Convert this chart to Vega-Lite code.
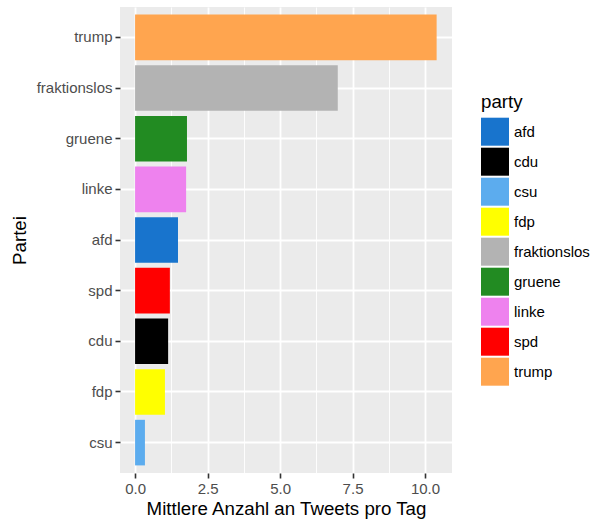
{
  "$schema": "https://vega.github.io/schema/vega-lite/v6.json",
  "autosize": "none",
  "width": 332,
  "height": 466,
  "padding": {"left": 120, "top": 7, "right": 143, "bottom": 47},
  "background": "white",
  "config": {
    "font": "Liberation Sans",
    "view": {"fill": "#EBEBEB", "stroke": null}
  },
  "data": {
    "values": [
      {"partei": "trump", "tweets": 10.4},
      {"partei": "fraktionslos", "tweets": 6.99},
      {"partei": "gruene", "tweets": 1.79},
      {"partei": "linke", "tweets": 1.76},
      {"partei": "afd", "tweets": 1.48},
      {"partei": "spd", "tweets": 1.2},
      {"partei": "cdu", "tweets": 1.14},
      {"partei": "fdp", "tweets": 1.03},
      {"partei": "csu", "tweets": 0.34}
    ]
  },
  "mark": {"type": "bar"},
  "encoding": {
    "y": {
      "field": "partei",
      "type": "nominal",
      "sort": ["trump", "fraktionslos", "gruene", "linke", "afd", "spd", "cdu", "fdp", "csu"],
      "scale": {"paddingInner": 0.1, "paddingOuter": 0.15},
      "axis": {
        "title": "Partei",
        "titleFont": "Liberation Sans",
        "titleFontSize": 18.7,
        "titleFontWeight": "normal",
        "titleColor": "black",
        "titlePadding": 7,
        "labelFontSize": 15,
        "labelColor": "#4D4D4D",
        "labelPadding": 3,
        "tickColor": "#333333",
        "tickSize": 5,
        "tickWidth": 1.6,
        "domain": false,
        "bandPosition": 0.5,
        "grid": true,
        "gridColor": "white",
        "gridWidth": 1.8
      }
    },
    "x": {
      "field": "tweets",
      "type": "quantitative",
      "scale": {"domain": [-0.52, 10.93], "nice": false, "zero": false},
      "axis": {
        "title": "Mittlere Anzahl an Tweets pro Tag",
        "titleFont": "Liberation Sans",
        "titleFontSize": 18.7,
        "titleFontWeight": "normal",
        "titleColor": "black",
        "titlePadding": 3,
        "values": [0, 1.25, 2.5, 3.75, 5, 6.25, 7.5, 8.75, 10],
        "labelExpr": "datum.value % 2.5 === 0 ? format(datum.value, '.1f') : ''",
        "labelFontSize": 15,
        "labelColor": "#4D4D4D",
        "labelPadding": 3,
        "tickColor": "#333333",
        "tickSize": 5,
        "tickWidth": 1.6,
        "tickOpacity": {"condition": {"test": "datum.value % 2.5 === 0", "value": 1}, "value": 0},
        "domain": false,
        "grid": true,
        "gridColor": "white",
        "gridWidth": {"condition": {"test": "datum.value % 2.5 === 0", "value": 1.8}, "value": 0.9}
      }
    },
    "color": {
      "field": "partei",
      "type": "nominal",
      "title": "party",
      "scale": {
        "domain": ["afd", "cdu", "csu", "fdp", "fraktionslos", "gruene", "linke", "spd", "trump"],
        "range": ["#1874CD", "#000000", "#5CACEE", "#FFFF00", "#B3B3B3", "#228B22", "#EE82EE", "#FF0000", "#FFA54F"]
      },
      "legend": {
        "orient": "none",
        "legendX": 361,
        "legendY": 86,
        "symbolType": "square",
        "symbolSize": 784,
        "symbolStrokeWidth": 0,
        "symbolOpacity": 1,
        "rowPadding": 2,
        "labelFontSize": 15,
        "labelColor": "black",
        "labelOffset": 5,
        "labelLimit": 200,
        "titleFontSize": 18.7,
        "titleFontWeight": "normal",
        "titleColor": "black",
        "titlePadding": 6
      }
    }
  }
}
